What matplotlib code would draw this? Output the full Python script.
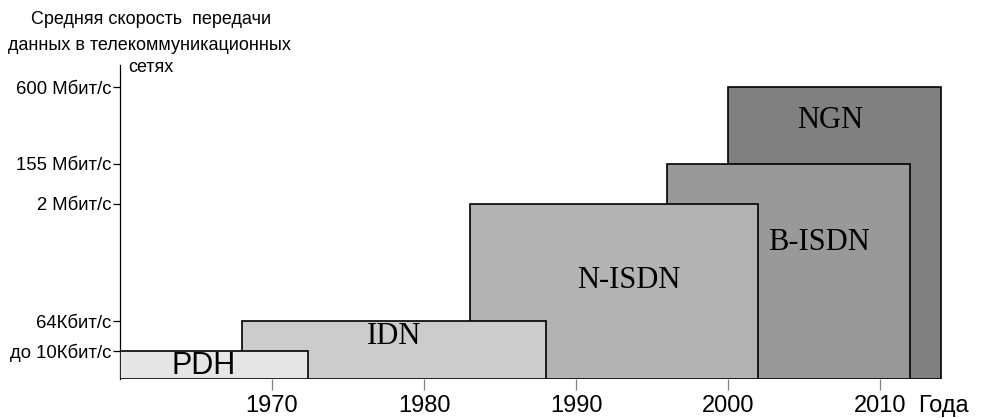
import matplotlib.pyplot as plt
from matplotlib.patches import Rectangle

# сети и их периоды (годы) / уровни скорости
networks = ["PDH", "IDN", "N-ISDN", "B-ISDN", "NGN"]
start_year = [1960, 1968, 1983, 1996, 2000]
end_year = [1972.4, 1988, 2002, 2012, 2014]
# высота уровня скорости (условные единицы на оси)
speed_level = [28, 58, 175, 215, 292]
speed_labels = ["до 10Кбит/с", "64Кбит/с", "2 Мбит/с", "155 Мбит/с", "600 Мбит/с"]
years = [1970, 1980, 1990, 2000, 2010]

colors = ["#e6e6e6", "#cccccc", "#b3b3b3", "#999999", "#808080"]
# где писать подписи (год, уровень)
label_pos = [(1965.5, 13), (1978, 42), (1993.5, 99), (2006, 136), (2006.7, 258)]
label_font = ["Liberation Sans", "Liberation Serif", "Liberation Serif",
              "Liberation Serif", "Liberation Serif"]

fig = plt.figure(figsize=(9.91, 4.18), dpi=100)
ax = fig.add_axes([120 / 991, 39 / 418, 836 / 991, 314 / 418])
ax.set_xlim(1960, 2015)
ax.set_ylim(0, 314)

# рисуем с конца, чтобы ранние сети лежали сверху
for i in reversed(range(len(networks))):
    r = Rectangle((start_year[i], 0), end_year[i] - start_year[i], speed_level[i],
                  facecolor=colors[i], edgecolor="black", linewidth=1.2,
                  zorder=2 + (len(networks) - i))
    ax.add_patch(r)
    ax.text(label_pos[i][0], label_pos[i][1], networks[i], ha="center", va="center",
            fontsize=22, family=label_font[i], zorder=10)

for s in ["top", "right", "bottom"]:
    ax.spines[s].set_visible(False)
ax.spines["left"].set_linewidth(0.9)

ax.set_yticks(speed_level)
ax.set_yticklabels(speed_labels, fontsize=13.3, family="Liberation Sans")
ax.tick_params(axis="y", length=5, width=0.9, pad=1)

ax.set_xticks(years)
ax.set_xticklabels([str(y) for y in years], fontsize=17, family="Liberation Sans")
ax.tick_params(axis="x", length=8, width=0.9, color="#808080", pad=3.8)

fig.text(918 / 991, 1 - 412 / 418, "Года", fontsize=17, family="Liberation Sans",
         ha="left", va="baseline")

fig.text(151 / 991, 1 - 20 / 418, "Средняя скорость  передачи", fontsize=13,
         family="Liberation Sans", ha="center", va="center")
fig.text(149 / 991, 1 - 45 / 418, "данных в телекоммуникационных", fontsize=13,
         family="Liberation Sans", ha="center", va="center")
fig.text(128 / 991, 1 - 68 / 418, "сетях", fontsize=13,
         family="Liberation Sans", ha="left", va="center")

plt.savefig("out.png", dpi=100)
